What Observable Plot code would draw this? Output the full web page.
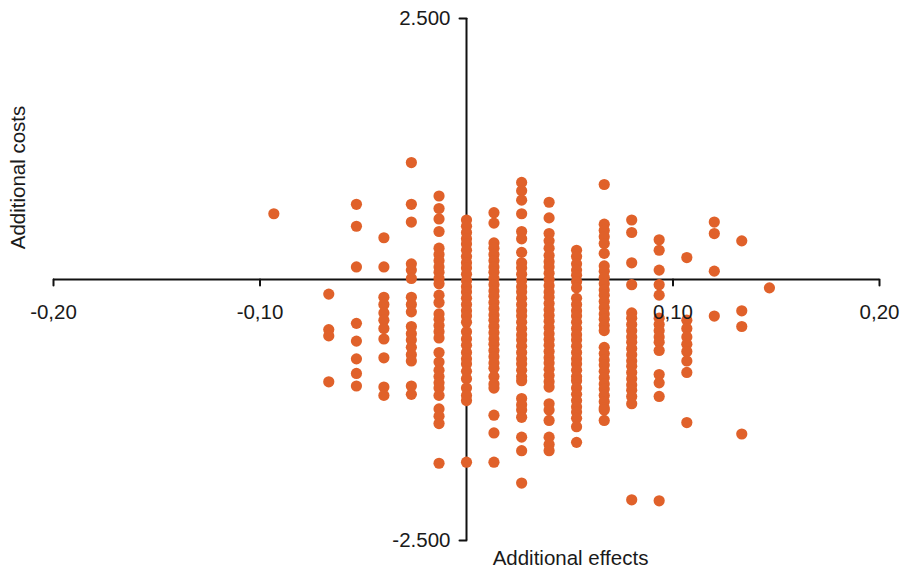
<!DOCTYPE html>
<html>
<head>
<meta charset="utf-8">
<script src="https://cdn.jsdelivr.net/npm/d3@7"></script>
<script src="https://cdn.jsdelivr.net/npm/@observablehq/plot@0.6"></script>
<style>
  html, body { margin: 0; padding: 0; background: #fff; }
  #chart { width: 905px; height: 570px; }
</style>
</head>
<body>
<div id="chart"></div>
<script>
// Additional effects (columns of the bootstrap scatter)
const effects = [-0.0933, -0.0667, -0.0533, -0.04, -0.0267, -0.0133, 0, 0.0133, 0.0267, 0.04, 0.0533, 0.0667, 0.08, 0.0933, 0.1067, 0.12, 0.1333, 0.1467];

// Additional costs for each effect column
const costsM7 = [630];
const costsM5 = [-140, -480, -540, -980];
const costsM4 = [720, 510, 120, -420, -590, -760, -900, -1020];
const costsM3 = [400, 120, -170, -240, -320, -390, -470, -570, -750, -1030, -1110];
const costsM2 = [1120, 720, 550, 150, 90, 10, -170, -240, -310, -450, -520, -580, -650, -720, -780, -1020, -1100];
const costsM1 = [800, 680, 580, 460, 300, 240, 180, 120, 70, 10, -40, -150, -220, -330, -380, -440, -500, -560, -700, -790, -870, -930, -990, -1040, -1110, -1240, -1310, -1380, -1760];
const costs0 = [570, 510, 450, 390, 340, 280, 220, 160, 110, 50, -10, -70, -120, -180, -240, -300, -350, -410, -500, -570, -630, -700, -760, -810, -880, -950, -1040, -1110, -1160, -1750];
const costs1 = [640, 540, 350, 300, 240, 180, 120, 70, 10, -50, -110, -160, -220, -280, -340, -390, -450, -510, -570, -620, -680, -740, -800, -850, -930, -1000, -1040, -1300, -1470, -1750];
const costs2 = [930, 850, 760, 630, 460, 390, 260, 160, 110, 50, -10, -70, -120, -180, -240, -300, -350, -410, -470, -530, -580, -640, -700, -760, -810, -870, -930, -970, -1140, -1200, -1250, -1320, -1510, -1640, -1950];
const costs3 = [740, 590, 440, 370, 300, 230, 170, 120, 60, 0, -60, -120, -170, -230, -290, -345, -400, -460, -520, -575, -630, -690, -750, -800, -860, -920, -980, -1030, -1190, -1250, -1350, -1510, -1580, -1640];
const costs4 = [280, 220, 150, 90, 40, -20, -80, -180, -240, -300, -350, -410, -470, -530, -580, -640, -700, -760, -810, -870, -930, -970, -1040, -1100, -1160, -1220, -1270, -1330, -1410, -1560];
const costs5 = [910, 530, 470, 410, 345, 250, 130, 80, 20, -40, -100, -150, -210, -270, -330, -380, -440, -490, -650, -710, -770, -820, -880, -940, -1000, -1050, -1110, -1170, -1230, -1250, -1350];
const costs6 = [570, 450, 160, -50, -320, -370, -430, -490, -550, -600, -660, -720, -780, -830, -890, -950, -1010, -1060, -1120, -1190, -2110];
const costs7 = [380, 280, 90, -50, -150, -370, -430, -490, -550, -600, -680, -910, -990, -1120, -2120];
const costs8 = [210, -390, -470, -550, -620, -690, -780, -890, -1370];
const costs9 = [550, 440, 80, -350];
const costs10 = [370, -300, -450, -1480];
const costs11 = [-80];

const costColumns = [costsM7, costsM5, costsM4, costsM3, costsM2, costsM1, costs0, costs1, costs2, costs3, costs4, costs5, costs6, costs7, costs8, costs9, costs10, costs11];

// Axis ticks
const xTicks = [-0.2, -0.1, 0.1, 0.2];
const yTicks = [2500, -2500];
const xTitle = "Additional effects";
const yTitle = "Additional costs";

const table = costColumns.flatMap((arr, i) => arr.map(c => ({effect: effects[i], cost: c})));

const fmtX = d => d.toFixed(2).replace(".", ",");
const fmtY = d => {
  const s = Math.abs(d).toString();
  return (d < 0 ? "-" : "") + s.slice(0, -3) + "." + s.slice(-3);
};

const tickShape = {
  draw(context, l) {
    context.moveTo(0, 0);
    context.lineTo(0, -l);
  }
};

const dotColor = "#e0612a";
const ink = "#111";

const chart = Plot.plot({
  width: 905,
  height: 570,
  marginLeft: 53,
  marginRight: 26,
  marginTop: 18,
  marginBottom: 30,
  style: {fontFamily: "'Liberation Sans', Arial, sans-serif", fontSize: "20px", background: "#fff", color: "#1a1a1a"},
  x: {domain: [-0.2, 0.2], axis: null},
  y: {domain: [-2500, 2500], axis: null},
  marks: [
    Plot.ruleX([0], {stroke: ink, strokeWidth: 2}),
    Plot.ruleY([0], {stroke: ink, strokeWidth: 2}),
    Plot.vector(xTicks, {x: d => d, y: 0, length: 6, rotate: 180, anchor: "start", shape: tickShape, stroke: ink, strokeWidth: 2}),
    Plot.vector(yTicks, {x: 0, y: d => d, length: 7, rotate: -90, anchor: "start", shape: tickShape, stroke: ink, strokeWidth: 2}),
    Plot.dot(table, {x: "effect", y: "cost", r: 5.6, fill: dotColor, stroke: "none"}),
    Plot.text(xTicks, {x: d => d, y: 0, text: fmtX, dy: 33, fontSize: 20.5, fill: "#1a1a1a"}),
    Plot.text(yTicks, {x: 0, y: d => d, text: fmtY, textAnchor: "end", dx: -16, fontSize: 20.5, fill: "#1a1a1a"}),
    Plot.text([xTitle], {frameAnchor: "bottom", text: d => d, textAnchor: "middle", lineAnchor: "middle", dx: 104, dy: 18, fontSize: 20.5, fill: "#1a1a1a"}),
    Plot.text([yTitle], {frameAnchor: "top-left", text: d => d, textAnchor: "middle", lineAnchor: "middle", rotate: -90, dx: -35, dy: 159, fontSize: 20.5, fill: "#1a1a1a"})
  ]
});

document.getElementById("chart").append(chart);
</script>
</body>
</html>
